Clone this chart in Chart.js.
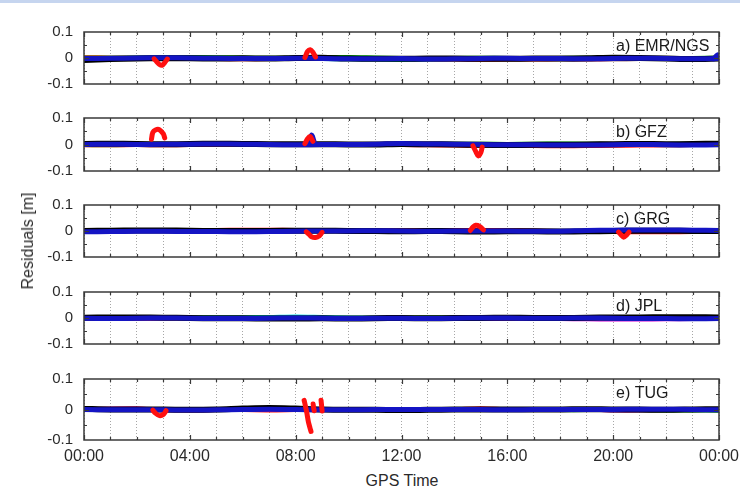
<!DOCTYPE html>
<html>
<head>
<meta charset="utf-8">
<title>Residuals</title>
<script src="https://cdn.jsdelivr.net/npm/chart.js@4.4.1/dist/chart.umd.min.js"></script>
<style>
body { margin: 0; background: #fff; width: 740px; height: 488px; position: relative; overflow: hidden; font-family: "Liberation Sans", Arial, sans-serif; }
.strip { position: absolute; left: 0; top: 0; width: 740px; height: 3px; background: #c6d5ef; }
.panel { position: absolute; left: 0; width: 740px; }
#ytitle { position: absolute; left: 28px; top: 241px; transform: translate(-50%, -50%) rotate(-90deg); font-size: 16px; color: #2a2a2a; white-space: nowrap; }
#xtitle { position: absolute; left: 402px; top: 481px; transform: translate(-50%, -50%); font-size: 16px; color: #2a2a2a; white-space: nowrap; }
</style>
</head>
<body>
<div class="strip"></div>
<div id="panels"></div>
<div id="ytitle">Residuals [m]</div>
<div id="xtitle">GPS Time</div>
<script>
// Time axis (hours of day) and labels
const hours = [0,1,2,3,4,5,6,7,8,9,10,11,12,13,14,15,16,17,18,19,20,21,22,23,24];
const xTickLabels = ['00:00', '04:00', '08:00', '12:00', '16:00', '20:00', '00:00'];
const yTickLabels = ['-0.1', '0', '0.1'];
const panelNames = ['a) EMR/NGS', 'b) GFZ', 'c) GRG', 'd) JPL', 'e) TUG'];

// a) EMR/NGS
const aBlue  = [-0.002,-0.001,0,0.001,0,-0.001,-0.002,-0.002,-0.001,-0.002,-0.003,-0.003,-0.002,-0.004,-0.003,-0.002,-0.001,-0.002,-0.002,-0.003,-0.002,-0.001,-0.002,-0.003,-0.002];
const aBlack = [-0.008,-0.004,-0.002,-0.001,-0.001,-0.002,-0.001,-0.002,0,0.001,-0.002,-0.003,-0.003,-0.002,-0.002,-0.003,-0.003,-0.002,-0.002,-0.001,0.001,0,-0.002,-0.004,-0.002];
const aRed   = [0.002,0.001,0,-0.003,-0.002,-0.004,-0.005,-0.004,-0.003,-0.002,-0.002,-0.003,-0.004,-0.005,-0.006,-0.007,-0.006,-0.006,-0.005,-0.006,-0.005,-0.004,-0.003,-0.002,-0.001];
const aGreen = [0.003,0.002,0.002,0.004,0.004,0.003,0.002,0.001,0.002,0.003,0.004,0.002,0,-0.001,0,0.001,0,-0.001,0,0.001,0,0,-0.001,0,0.001];
const aCyan  = [0,-0.002,-0.003,-0.004,-0.003,-0.002,-0.003,-0.004,-0.003,-0.004,-0.005,-0.006,-0.008,-0.007,-0.006,-0.005,-0.005,-0.004,-0.005,-0.006,-0.005,-0.004,-0.004,-0.003,-0.002];
const aSpikeT = [2.65,2.75,2.85,2.95,3.05,3.15,null,8.35,8.45,8.55,8.65,8.75];
const aSpikeV = [-0.003,-0.015,-0.025,-0.028,-0.018,-0.004,null,0.002,0.025,0.032,0.022,0.004];
const aBlueSpikeT = [23.8,23.95,24];
const aBlueSpikeV = [-0.003,0.012,0.004];

// b) GFZ
const bBlue   = [0,0.001,0,0.001,0.001,0.002,0.001,0,-0.001,0,0,0.001,0.004,0.002,0.001,0,-0.001,-0.001,-0.002,-0.002,-0.001,0,-0.001,-0.002,-0.001];
const bBlack  = [0.002,0.003,0.002,0.001,0.002,0.003,0.002,0.001,0.001,0.001,0,0,0.002,0.001,0,-0.001,-0.002,-0.001,-0.001,0,0.001,0.002,0.001,0.002,0.003];
const bRed    = [-0.003,-0.003,-0.002,-0.003,-0.002,-0.001,0,0.001,0.002,0.001,-0.001,-0.002,-0.002,-0.003,-0.004,-0.005,-0.005,-0.006,-0.007,-0.006,-0.005,-0.004,-0.003,-0.002,-0.002];
const bGreen  = [-0.002,-0.003,-0.001,0,0,0.001,0.001,0,0,0.001,0.001,0,0.001,0.002,0.003,0.003,0.002,0.003,0.004,0.003,0.002,0.001,0.002,0.003,0.004];
const bYellow = [-0.004,-0.004,-0.005,-0.005,-0.006,-0.006,-0.006,-0.006,-0.006,-0.006,-0.005,-0.004,-0.003,-0.002,-0.001,0,0.001,0.002,0.003,0.004,0.004,0.005,0.005,0.004,0.003];
const bSpikeT = [2.55,2.6,2.7,2.85,3.0,3.05,null,8.35,8.45,8.55,8.65,null,14.7,14.8,14.9,15.0,15.05];
const bSpikeV = [0.02,0.045,0.055,0.056,0.04,0.025,null,0.003,0.022,0.03,0.012,null,-0.005,-0.025,-0.043,-0.03,-0.01];
const bBlueSpikeT = [8.5,8.6,8.7];
const bBlueSpikeV = [0.005,0.036,0.01];

// c) GRG
const cBlue  = [-0.003,-0.002,-0.001,-0.001,-0.002,-0.002,-0.003,-0.002,-0.001,0,0,0.001,0,-0.001,0,0,0,-0.001,-0.001,0.002,0.003,0.004,0.004,0.003,0.002];
const cBlack = [0,0.001,0.002,0.002,0.001,0,0,0,0.001,0.001,0,0,-0.001,0,-0.001,-0.002,-0.001,-0.001,-0.002,-0.001,0,0.001,0.001,0,0];
const cRed   = [0,0.001,0.002,0.003,0.004,0.004,0.005,0.005,0.004,0.002,0.001,0.002,0.003,0.003,0.004,0.004,0.003,0.002,0,-0.002,-0.004,-0.005,-0.005,-0.004,-0.004];
const cGreen = [0.001,0.002,0.003,0.003,0.002,0.001,0,0.001,0.002,0.002,0.001,0,0,0.001,0.001,0,0,0.001,0,-0.001,-0.002,-0.002,-0.001,-0.001,0];
const cSpikeT = [8.4,8.5,8.6,8.75,8.9,9.0,null,14.6,14.7,14.8,14.95,15.1,null,20.2,20.3,20.4,20.5,20.6];
const cSpikeV = [-0.003,-0.012,-0.022,-0.025,-0.018,-0.005,null,0.002,0.015,0.022,0.018,0.004,null,-0.004,-0.015,-0.024,-0.016,-0.004];

// d) JPL
const dBlue    = [-0.001,-0.002,-0.001,0,-0.001,-0.002,-0.002,-0.001,0,-0.001,-0.002,-0.001,-0.001,-0.002,-0.001,0,0,-0.001,-0.001,0,-0.001,-0.002,-0.002,-0.003,-0.002];
const dBlack   = [0.001,0.002,0.002,0.001,0,-0.001,-0.001,-0.002,-0.002,-0.001,-0.002,-0.001,0,-0.001,0,0,0.001,0,0,0.001,0.002,0.002,0.003,0.003,0.002];
const dGreen   = [0,-0.001,0,0.001,0.001,0,0,0.001,0.001,0,0,0.001,0.002,0.002,0.001,0.001,0.002,0.001,0,0.001,0.002,0.001,0,0.001,0.001];
const dCyan    = [0,0,0,0.001,0.002,0.003,0.003,0.004,0.006,0.004,0.002,0.001,0,0.001,0.001,0,0,0.001,0,0,-0.001,-0.001,0,0,0];
const dMagenta = [-0.002,-0.003,-0.003,-0.002,-0.002,-0.003,-0.003,-0.002,-0.002,-0.003,-0.004,-0.004,-0.003,-0.003,-0.004,-0.004,-0.003,-0.003,-0.004,-0.005,-0.006,-0.006,-0.005,-0.004,-0.003];

// e) TUG
const eBlue    = [0,-0.001,-0.001,-0.001,-0.002,-0.001,0,0.001,0,-0.001,-0.001,0,0,0,0,0,-0.001,0,0,0,0,0.001,0.001,0,-0.001];
const eBlack   = [0.002,0,0,0,-0.001,0,0.003,0.005,0.003,0,-0.001,-0.001,-0.002,-0.001,0,0,0,0,0,0.001,0,0,-0.001,0,0.001];
const eMagenta = [0.002,0.003,0.003,0,-0.002,-0.002,-0.001,0,0,-0.001,0,0,0,0,0.001,0.002,0.001,0,0,0,-0.003,-0.003,-0.002,-0.001,0];
const eRed     = [0.001,0.002,0.003,-0.002,-0.003,-0.002,-0.002,-0.003,-0.002,-0.001,0,-0.001,0,0,0.001,0.004,0.001,0,0,-0.001,-0.002,-0.002,-0.001,-0.001,0];
const eGreen   = [0.001,0,0,0,0.001,0.001,0.001,0,0.001,0.001,0,-0.001,-0.003,-0.002,-0.001,0,-0.001,-0.001,-0.002,-0.002,-0.002,-0.003,-0.003,-0.003,-0.004];
const eSpikeT = [2.6,2.7,2.85,3.0,3.1,null,8.32,8.36,8.42,8.48,8.54,8.58,null,8.66,8.68,8.7,null,8.96,8.98,9.0];
const eSpikeV = [-0.002,-0.012,-0.02,-0.016,-0.004,null,0.03,0.015,-0.01,-0.04,-0.06,-0.072,null,0.018,0.005,-0.004,null,0.03,0.012,-0.005];

// Colours
const RED = '#ff1010', GREEN = '#00b400', BLUE = '#1414c4', BLACK = '#000000',
      CYAN = '#00d8e0', MAGENTA = '#d000d0', YELLOW = '#e8e000';

// Panel geometry in page pixels
const panelTops = [22, 108, 195, 282, 369];
const panelHeights = [72, 73, 72, 72, 71];

function pts(xs, ys) {
    return xs.map((x, i) => ({ x: x, y: ys[i] }));
}

function line(color, xs, ys, width) {
    return {
        data: pts(xs, ys),
        borderColor: color,
        borderWidth: width,
        pointRadius: 0,
        tension: 0.3,
        borderCapStyle: 'round',
        borderJoinStyle: 'round',
        fill: false
    };
}

// first dataset is drawn on top
const panelData = [
    [line(RED, aSpikeT, aSpikeV, 5), line(BLUE, aBlueSpikeT, aBlueSpikeV, 5), line(BLUE, hours, aBlue, 5), line(BLACK, hours, aBlack, 6),
     line(RED, hours, aRed, 4), line(GREEN, hours, aGreen, 4), line(CYAN, hours, aCyan, 4)],
    [line(RED, bSpikeT, bSpikeV, 5), line(BLUE, bBlueSpikeT, bBlueSpikeV, 5), line(BLUE, hours, bBlue, 5), line(BLACK, hours, bBlack, 6),
     line(RED, hours, bRed, 4), line(GREEN, hours, bGreen, 4), line(YELLOW, hours, bYellow, 2)],
    [line(RED, cSpikeT, cSpikeV, 5), line(BLUE, hours, cBlue, 5), line(BLACK, hours, cBlack, 6),
     line(RED, hours, cRed, 4), line(GREEN, hours, cGreen, 4)],
    [line(BLUE, hours, dBlue, 5), line(BLACK, hours, dBlack, 6), line(GREEN, hours, dGreen, 4),
     line(CYAN, hours, dCyan, 4), line(MAGENTA, hours, dMagenta, 4)],
    [line(RED, eSpikeT, eSpikeV, 5), line(BLUE, hours, eBlue, 5), line(BLACK, hours, eBlack, 6),
     line(MAGENTA, hours, eMagenta, 4), line(RED, hours, eRed, 4), line(GREEN, hours, eGreen, 4)]
];

// Border, inward tick marks and panel name
const framePlugin = {
    id: 'frame',
    afterDatasetsDraw(chart, args, opts) {
        const ctx = chart.ctx;
        const a = chart.chartArea;
        const xs = chart.scales.x, ys = chart.scales.y;
        ctx.save();
        ctx.strokeStyle = '#3a3a3a';
        ctx.lineWidth = 1.2;
        ctx.beginPath();
        hours.forEach(h => {
            const px = Math.round(xs.getPixelForValue(h)) + 0.5;
            const len = h % 4 === 0 ? 5 : 3;
            ctx.moveTo(px, a.top); ctx.lineTo(px, a.top + len);
            ctx.moveTo(px, a.bottom); ctx.lineTo(px, a.bottom - len);
        });
        [-0.05, 0, 0.05].forEach(v => {
            const py = Math.round(ys.getPixelForValue(v)) + 0.5;
            const len = v === 0 ? 5 : 3;
            ctx.moveTo(a.left, py); ctx.lineTo(a.left + len, py);
            ctx.moveTo(a.right, py); ctx.lineTo(a.right - len, py);
        });
        ctx.stroke();
        ctx.lineWidth = 1.5;
        ctx.strokeRect(a.left, a.top, a.right - a.left, a.bottom - a.top);
        ctx.fillStyle = '#1a1a1a';
        ctx.font = '16px "Liberation Sans", Arial, sans-serif';
        ctx.textBaseline = 'middle';
        ctx.textAlign = 'left';
        ctx.fillText(opts.label, a.left + 532, a.top + 15);
        ctx.restore();
    }
};

function makePanel(i) {
    const last = i === panelData.length - 1;
    const padTop = 10, padBottom = last ? 0 : 10, xHeight = last ? 32 : 0;
    const div = document.createElement('div');
    div.className = 'panel';
    div.style.top = (panelTops[i] - padTop) + 'px';
    const h = padTop + panelHeights[i] + padBottom + xHeight;
    div.style.height = h + 'px';
    const canvas = document.createElement('canvas');
    canvas.width = 740;
    canvas.height = h;
    div.appendChild(canvas);
    document.getElementById('panels').appendChild(div);

    new Chart(canvas.getContext('2d'), {
        type: 'line',
        data: { datasets: panelData[i] },
        plugins: [framePlugin],
        options: {
            responsive: false,
            animation: false,
            events: [],
            layout: { padding: { left: 0, right: 21, top: padTop, bottom: padBottom } },
            plugins: {
                legend: { display: false },
                tooltip: { enabled: false },
                frame: { label: panelNames[i] }
            },
            scales: {
                x: {
                    type: 'linear',
                    min: 0,
                    max: 24,
                    afterFit: s => { s.height = xHeight; s.paddingLeft = 0; s.paddingRight = 0; },
                    ticks: {
                        display: last,
                        stepSize: 1,
                        autoSkip: false,
                        maxRotation: 0,
                        padding: 7,
                        color: '#2a2a2a',
                        font: { size: 16, family: '"Liberation Sans", Arial, sans-serif' },
                        callback: v => (v % 4 === 0 ? xTickLabels[v / 4] : '')
                    },
                    grid: { color: 'rgba(0,0,0,0.35)', lineWidth: 1, drawTicks: false },
                    border: { display: false, dash: [1, 2] }
                },
                y: {
                    min: -0.1,
                    max: 0.1,
                    afterFit: s => { s.width = 84; },
                    ticks: {
                        stepSize: 0.05,
                        padding: 11,
                        color: '#2a2a2a',
                        font: { size: 15, family: '"Liberation Sans", Arial, sans-serif' },
                        callback: v => {
                            if (Math.abs(v) < 1e-9) return yTickLabels[1];
                            if (Math.abs(v - 0.1) < 1e-9) return yTickLabels[2];
                            if (Math.abs(v + 0.1) < 1e-9) return yTickLabels[0];
                            return '';
                        }
                    },
                    grid: {
                        drawTicks: false,
                        lineWidth: 1,
                        color: c => (Math.abs(Math.abs(c.tick.value) - 0.05) < 1e-9 ? 'rgba(0,0,0,0.35)' : 'rgba(0,0,0,0)')
                    },
                    border: { display: false, dash: [1, 2] }
                }
            }
        }
    });
}

panelData.forEach((d, i) => makePanel(i));
</script>
</body>
</html>
